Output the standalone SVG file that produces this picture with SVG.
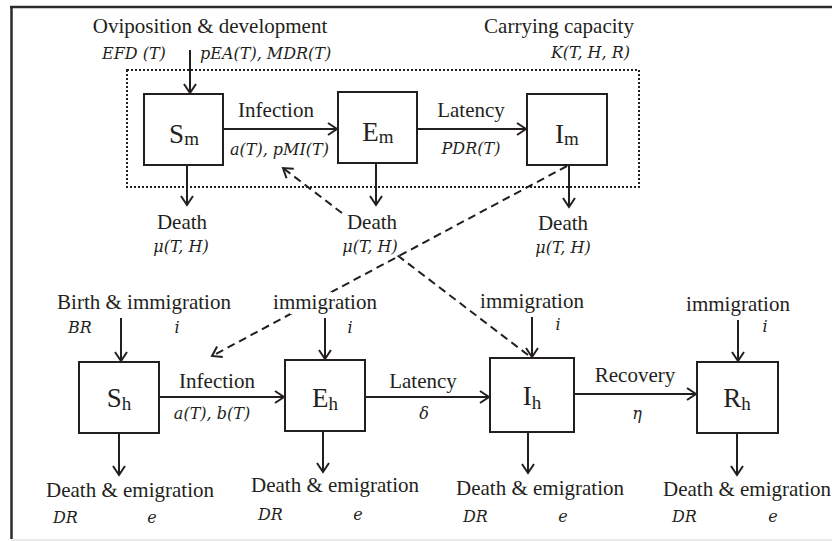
<svg xmlns="http://www.w3.org/2000/svg" width="832" height="541" viewBox="0 0 832 541">
<defs>
<marker id="arr" markerUnits="userSpaceOnUse" markerWidth="20" markerHeight="20" refX="0" refY="0" viewBox="-12 -10 14 20" orient="auto" overflow="visible">
<path d="M-9,-6 L0,0 L-9,6" fill="none" stroke="#231f20" stroke-width="2"/>
</marker>
</defs>
<style>
.t{font-family:"Liberation Serif","Times New Roman",serif;font-size:21px;fill:#231f20}
.m{font-family:"DejaVu Serif",serif;font-style:italic;font-size:16px;fill:#231f20}
.c{text-anchor:middle}
.box{fill:#fff;stroke:#231f20;stroke-width:2}
.lab{font-family:"Liberation Serif","Times New Roman",serif;font-size:27px;fill:#231f20;text-anchor:middle}
.sub{font-size:19px}
.a{fill:none;stroke:#231f20;stroke-width:2;marker-end:url(#arr)}
.d{fill:none;stroke:#231f20;stroke-width:2;stroke-dasharray:8 5;marker-end:url(#arr)}
.bg{fill:#fff}
</style>
<rect width="832" height="541" fill="#fff"/>
<g id="frame">
<line x1="11.5" y1="7" x2="11.5" y2="539" stroke="#2b2b2b" stroke-width="2.5"/>
<line x1="10" y1="7" x2="832" y2="7" stroke="#2b2b2b" stroke-width="2.5"/>
<line x1="11" y1="540" x2="832" y2="540" stroke="#e4e4e4" stroke-width="1.5"/>
</g>
<g id="mosquito-compartment">
<rect x="127" y="70" width="512" height="117" fill="none" stroke="#231f20" stroke-width="2" stroke-dasharray="2 2"/>
</g>
<g id="connectors">
<path class="a" d="M190,50 V93"/>
<path class="a" d="M223,129 H337"/>
<path class="a" d="M417,129 H526"/>
<path class="a" d="M187,165 V205"/>
<path class="a" d="M376,163 V205"/>
<path class="a" d="M569,165 V207"/>
<path class="d" d="M567,166 L212,356"/>
<path class="d" d="M528,355 L283,168"/>
<path class="a" d="M121,318 V361"/>
<path class="a" d="M119,433 V475"/>
<path class="a" d="M159,397 H284"/>
<path class="a" d="M325,318 V359"/>
<path class="a" d="M323,431 V472"/>
<path class="a" d="M365,397 H489"/>
<path class="a" d="M532,317 V357"/>
<path class="a" d="M528,432 V473"/>
<path class="a" d="M574,394 H696"/>
<path class="a" d="M738,320 V361"/>
<path class="a" d="M737,433 V475"/>
</g>
<g id="labels">
<text class="t c" x="210" y="33">Oviposition &amp; development</text>
<text class="m" x="102" y="59">EFD (T)</text>
<text class="m" x="200" y="59">pEA(T), MDR(T)</text>
<text class="t c" x="559" y="33">Carrying capacity</text>
<text class="m" x="630" y="58" text-anchor="end">K(T, H, R)</text>
<text class="t c" x="276" y="117">Infection</text>
<text class="m" x="230" y="155">a(T), pMI(T)</text>
<text class="t c" x="471" y="117">Latency</text>
<text class="m c" x="471" y="154">PDR(T)</text>
<text class="t c" x="182" y="229">Death</text>
<text class="m c" x="181" y="252">μ(T, H)</text>
<g id="em-death">
<rect class="bg" x="345" y="211" width="51" height="46"/>
<text class="t c" x="372" y="229">Death</text>
<text class="m c" x="370" y="252">μ(T, H)</text>
</g>
<text class="t c" x="563" y="230">Death</text>
<text class="m c" x="563" y="253">μ(T, H)</text>
<text class="t c" x="144" y="309">Birth &amp; immigration</text>
<text class="m" x="68" y="333">BR</text>
<text class="m c" x="177" y="333">i</text>
<g id="eh-immigration">
<rect class="bg" x="290" y="292" width="42" height="22"/>
<text class="t c" x="325" y="309">immigration</text>
</g>
<text class="m c" x="350" y="333">i</text>
<text class="t c" x="532" y="308">immigration</text>
<text class="m c" x="558" y="330">i</text>
<text class="t c" x="738" y="311">immigration</text>
<text class="m c" x="765" y="332">i</text>
<text class="t c" x="217" y="388">Infection</text>
<text class="m c" x="212" y="419">a(T), b(T)</text>
<text class="t c" x="423" y="388">Latency</text>
<text class="m c" x="424" y="419">δ</text>
<text class="t c" x="635" y="382">Recovery</text>
<text class="m c" x="637" y="419">η</text>
<text class="t c" x="130" y="497">Death &amp; emigration</text>
<text class="m" x="53" y="523">DR</text>
<text class="m c" x="152" y="523">e</text>
<text class="t c" x="335" y="492">Death &amp; emigration</text>
<text class="m" x="258" y="520">DR</text>
<text class="m c" x="358" y="520">e</text>
<text class="t c" x="540" y="495">Death &amp; emigration</text>
<text class="m" x="463" y="522">DR</text>
<text class="m c" x="563" y="522">e</text>
<text class="t c" x="747" y="496">Death &amp; emigration</text>
<text class="m" x="672" y="522">DR</text>
<text class="m c" x="773" y="522">e</text>
</g>
<g id="Sm">
<rect class="box" x="144" y="94" width="79" height="71"/>
<text class="lab" x="184" y="143">S<tspan class="sub" dy="2">m</tspan></text>
</g>
<g id="Em">
<rect class="box" x="338" y="92" width="79" height="71"/>
<text class="lab" x="378" y="141">E<tspan class="sub" dy="2">m</tspan></text>
</g>
<g id="Im">
<rect class="box" x="527" y="94" width="80" height="71"/>
<text class="lab" x="567" y="143">I<tspan class="sub" dy="2">m</tspan></text>
</g>
<g id="Sh">
<rect class="box" x="79" y="362" width="80" height="71"/>
<text class="lab" x="119" y="407">S<tspan class="sub" dy="3">h</tspan></text>
</g>
<g id="Eh">
<rect class="box" x="285" y="360" width="80" height="71"/>
<text class="lab" x="325" y="407">E<tspan class="sub" dy="3">h</tspan></text>
</g>
<g id="Ih">
<rect class="box" x="490" y="358" width="84" height="74"/>
<text class="lab" x="532" y="405">I<tspan class="sub" dy="4">h</tspan></text>
</g>
<g id="Rh">
<rect class="box" x="697" y="362" width="81" height="71"/>
<text class="lab" x="737" y="407">R<tspan class="sub" dy="3">h</tspan></text>
</g>
</svg>
